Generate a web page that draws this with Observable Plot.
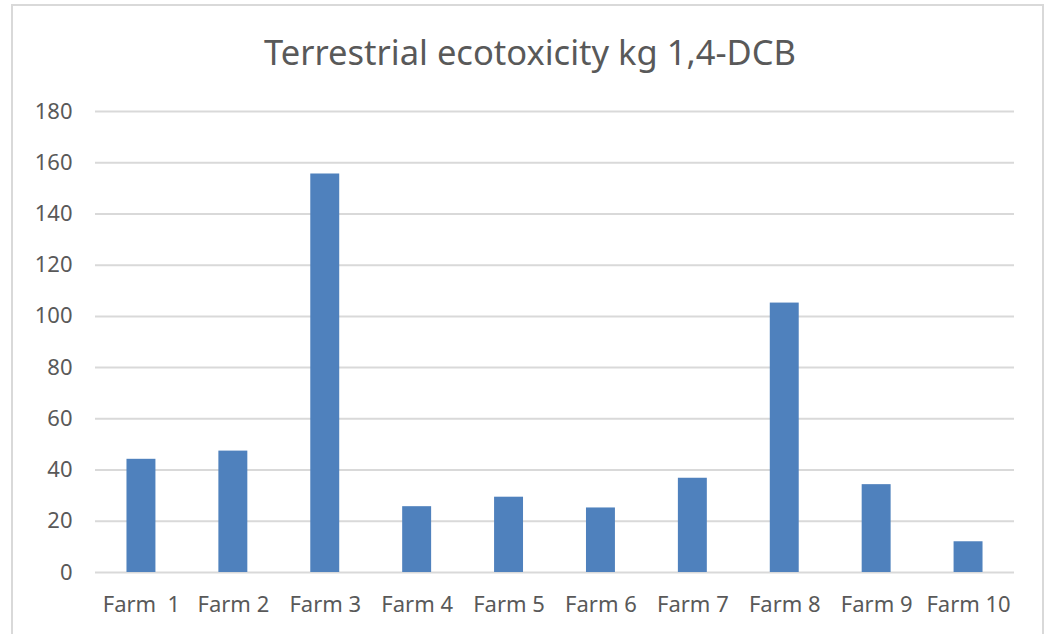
<!DOCTYPE html>
<html>
<head>
<meta charset="utf-8">
<script src="https://cdn.jsdelivr.net/npm/d3@7"></script>
<script src="https://cdn.jsdelivr.net/npm/@observablehq/plot@0.6"></script>
<style>
  html, body { margin: 0; padding: 0; background: #fff; }
  #chart { position: relative; width: 1049px; height: 634px; overflow: hidden; font-family: "Noto Sans", sans-serif; }
  #frame { position: absolute; left: 11px; top: 4px; width: 1033px; height: 680px; border: 2px solid #d9d9d9; box-sizing: border-box; pointer-events: none; }
  #title { position: absolute; left: 530px; top: 35px; transform: translateX(-50%); white-space: nowrap;
           font-size: 34.5px; line-height: 1; color: #595959; }
  #plot { position: absolute; left: 0; top: 95px; }
</style>
</head>
<body>
<div id="chart">
  <div id="frame"></div>
  <div id="title">Terrestrial ecotoxicity kg 1,4-DCB</div>
  <div id="plot"></div>
</div>
<script>
// Farm names (first one is written with a double space)
const farms = ["Farm \u00a01", "Farm 2", "Farm 3", "Farm 4", "Farm 5",
               "Farm 6", "Farm 7", "Farm 8", "Farm 9", "Farm 10"];
// Terrestrial ecotoxicity per farm, kg 1,4-DCB
const ecotox = [44.2, 47.4, 155.6, 25.7, 29.4, 25.2, 36.8, 105.2, 34.3, 12.0];
// Value-axis ticks
const yTicks = [0, 20, 40, 60, 80, 100, 120, 140, 160, 180];

const rows = farms.map((farm, i) => ({farm, value: ecotox[i]}));

const chart = Plot.plot({
  width: 1049,
  height: 539,
  marginTop: 16,
  marginBottom: 62,
  marginLeft: 95,
  marginRight: 35,
  style: {fontFamily: "'Noto Sans', sans-serif", fontSize: "22px", color: "#595959", background: "transparent"},
  x: {domain: farms, paddingInner: 0.685, paddingOuter: 0.3425, round: false, label: null},
  y: {domain: [0, 180], label: null},
  marks: [
    Plot.gridY(yTicks, {stroke: "#d9d9d9", strokeOpacity: 1, strokeWidth: 2}),
    Plot.barY(rows, {x: "farm", y: "value", fill: "#4f81bd"}),
    Plot.axisY(yTicks, {tickSize: 0, tickPadding: 23, label: null, fill: "#595959"}),
    Plot.axisX({tickSize: 0, tickPadding: 24, label: null, fill: "#595959"})
  ]
});
document.getElementById("plot").appendChild(chart);
</script>
</body>
</html>
